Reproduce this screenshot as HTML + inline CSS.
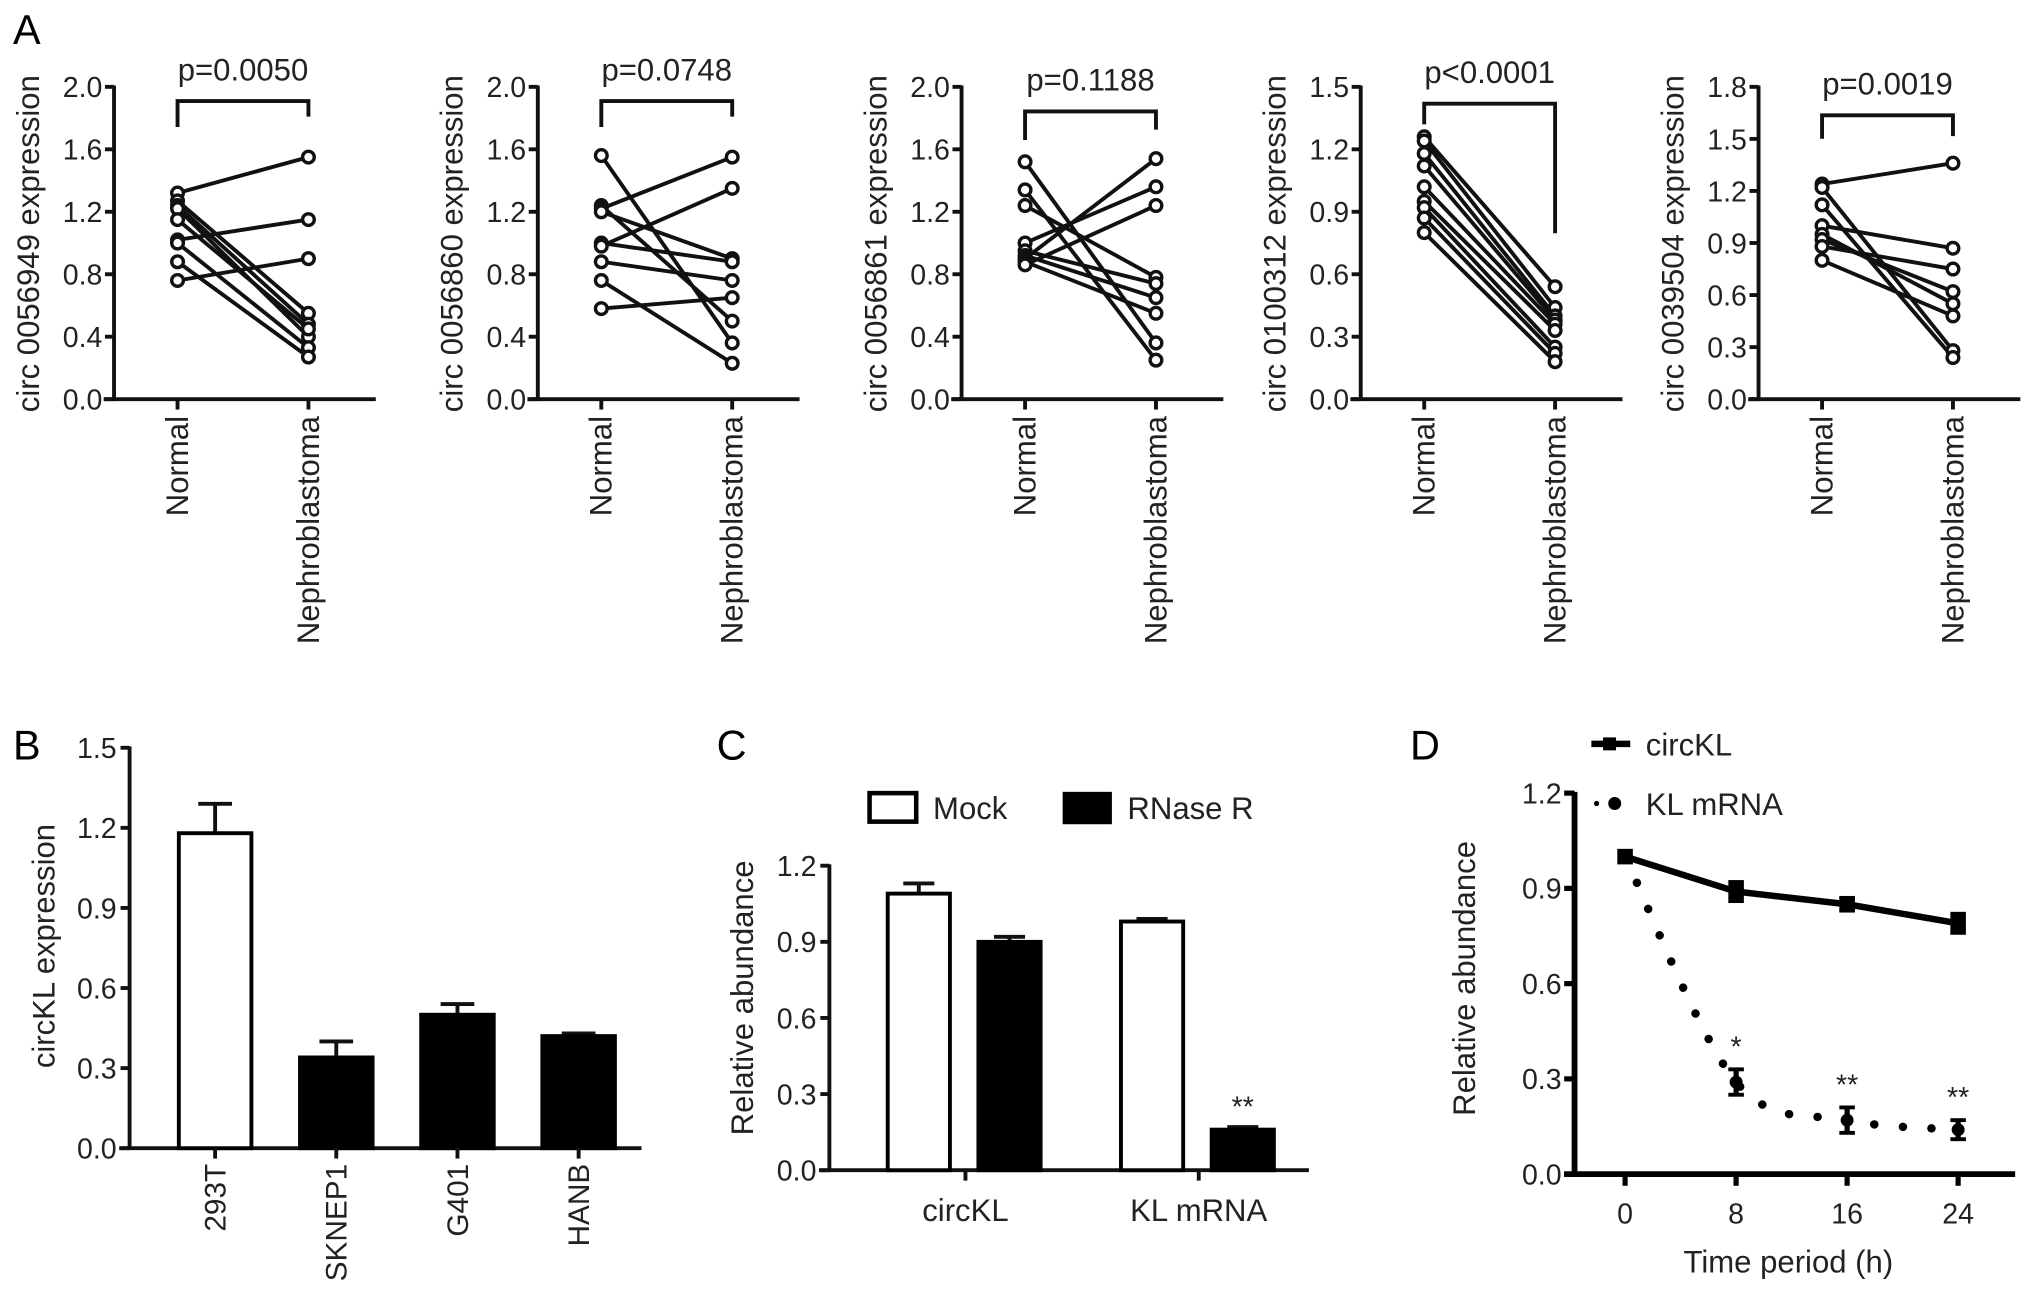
<!DOCTYPE html>
<html><head><meta charset="utf-8"><style>
html,body{margin:0;padding:0;background:#fff;}
svg{display:block;font-family:"Liberation Sans",Arial,sans-serif;}
</style></head><body>
<svg id="fig" width="2032" height="1311" viewBox="0 0 1568 1011.6" xmlns="http://www.w3.org/2000/svg"></svg>
<script>
// Panel A data
const aTitles = ["circ 0056949 expression","circ 0056860 expression","circ 0056861 expression","circ 0100312 expression","circ 0039504 expression"];
const aPvals = ["p=0.0050","p=0.0748","p=0.1188","p<0.0001","p=0.0019"];
const aMax = [2.0,2.0,2.0,1.5,1.8];
const aStep = [0.4,0.4,0.4,0.3,0.3];
const aNormal1 = [1.32,1.27,1.24,1.22,1.15,1.02,1.00,0.88,0.76];
const aNephro1 = [1.55,0.55,0.48,0.40,0.45,1.15,0.33,0.27,0.90];
const aNormal2 = [1.56,1.24,1.22,1.20,1.00,0.98,0.88,0.76,0.58];
const aNephro2 = [0.36,0.50,1.55,0.90,0.88,1.35,0.76,0.23,0.65];
const aNormal3 = [1.52,1.34,1.24,1.00,0.95,0.92,0.90,0.88,0.86];
const aNephro3 = [0.36,0.25,0.78,1.36,0.74,0.65,1.54,0.55,1.24];
const aNormal4 = [1.26,1.24,1.18,1.12,1.02,0.95,0.92,0.87,0.80];
const aNephro4 = [0.54,0.44,0.40,0.38,0.36,0.33,0.25,0.22,0.18];
const aNormal5 = [1.24,1.22,1.12,1.00,0.95,0.92,0.88,0.80];
const aNephro5 = [1.36,0.28,0.24,0.87,0.55,0.62,0.75,0.48];
// Panel B data
const bCats = ["293T","SKNEP1","G401","HANB"];
const bVals = [1.18,0.34,0.50,0.42];
const bErr = [0.11,0.06,0.04,0.01];
// Panel C data
const cCats = ["circKL","KL mRNA"];
const cMock = [1.09,0.98];
const cMockErr = [0.04,0.01];
const cRnase = [0.90,0.16];
const cRnaseErr = [0.02,0.01];
// Panel D data
const dTimes = [0,8,16,24];
const dCirc = [1.0,0.89,0.85,0.79];
const dCircErr = [0.0,0.03,0.02,0.03];
const dMrna = [1.0,0.29,0.17,0.14];
const dMrnaErr = [0.0,0.04,0.04,0.03];
const dStars = ["","*","**","**"];

const NS="http://www.w3.org/2000/svg";
const svg=document.getElementById('fig');
const TF=22, LF=24, SW=3;
function el(tag,attrs,parent,text){const e=document.createElementNS(NS,tag);for(const k in attrs)e.setAttribute(k,attrs[k]);if(text!==undefined)e.textContent=text;(parent||svg).appendChild(e);return e;}

function panelLabel(t,x,y){const e=el('text',{x:x,y:y,'font-size':32},svg,t);

}
panelLabel('A',10,34);panelLabel('B',10,586);panelLabel('C',553,586);panelLabel('D',1088,586);

// Panel A
const aAxisX=[88,415,742,1050,1357];
const aNormals=[aNormal1,aNormal2,aNormal3,aNormal4,aNormal5];
const aNephros=[aNephro1,aNephro2,aNephro3,aNephro4,aNephro5];
const aBracketY=[78,78,86,80,89];
const aLegL=[98,98,108,96,107];
const aLegR=[90,90,100,180,105];
for(let i=0;i<5;i++){
  const g=el('g',{});
  
  
  const ax=aAxisX[i], y0=308, y1=67;
  const ys=v=>y0-(v/aMax[i])*(y0-y1);
  const xN=ax+49, xT=ax+150;
  el('line',{x1:ax,y1:y1-1,x2:ax,y2:y0,stroke:'#111','stroke-width':SW},g);
  el('line',{x1:ax-8,y1:y0,x2:ax+202,y2:y0,stroke:'#111','stroke-width':SW},g);
  const nt=Math.round(aMax[i]/aStep[i]);
  for(let k=0;k<=nt;k++){const v=k*aStep[i],y=ys(v);
    el('line',{x1:ax-7,y1:y,x2:ax,y2:y,stroke:'#111','stroke-width':SW},g);
    const t=el('text',{x:ax-9,y:y+8,'font-size':TF,'text-anchor':'end',fill:'#222'},g,v.toFixed(1));
    
    }
  [xN,xT].forEach(x=>el('line',{x1:x,y1:y0,x2:x,y2:y0+8,stroke:'#111','stroke-width':SW},g));
  const yt=el('text',{transform:`translate(${ax-58},${188}) rotate(-90)`,'font-size':LF,'text-anchor':'middle',fill:'#222'},g,aTitles[i]);
  
  
  const l1=el('text',{transform:`translate(${xN+8},${321}) rotate(-90)`,'font-size':LF,'text-anchor':'end',fill:'#222'},g,'Normal');
  
  
  const l2=el('text',{transform:`translate(${xT+8},${321}) rotate(-90)`,'font-size':LF,'text-anchor':'end',fill:'#222'},g,'Nephroblastoma');
  
  
  el('path',{d:`M${xN},${aLegL[i]} V${aBracketY[i]} H${xT} V${aLegR[i]}`,fill:'none',stroke:'#111','stroke-width':SW},g);
  const pt=el('text',{x:(xN+xT)/2,y:aBracketY[i]-16,'font-size':LF,'text-anchor':'middle',fill:'#222'},g,aPvals[i]);
  
  
  const N=aNormals[i],T=aNephros[i];
  for(let j=0;j<N.length;j++){
    const ln=el('line',{x1:xN,y1:ys(N[j]),x2:xT,y2:ys(T[j]),stroke:'#111','stroke-width':SW},g);
    
    
  }
  for(let j=0;j<N.length;j++){
    [[xN,N[j]],[xT,T[j]]].forEach(p=>{const c=el('circle',{cx:p[0],cy:ys(p[1]),r:4.5,fill:'#fff',stroke:'#111','stroke-width':2.6},g);
    
    });
  }
}

// Panel B
(function(){
  const g=el('g',{});
  
  
  const ax=100,y0=886,y1=577,max=1.5;
  const ys=v=>y0-v/max*(y0-y1);
  const xc=i=>166+i*93.5;
  el('line',{x1:ax,y1:y1-1,x2:ax,y2:y0,stroke:'#111','stroke-width':SW},g);
  el('line',{x1:ax-8,y1:y0,x2:495,y2:y0,stroke:'#111','stroke-width':SW},g);
  for(let k=0;k<=5;k++){const v=k*0.3,y=ys(v);
    el('line',{x1:ax-7,y1:y,x2:ax,y2:y,stroke:'#111','stroke-width':SW},g);
    el('text',{x:ax-10,y:y+8,'font-size':TF,'text-anchor':'end',fill:'#222'},g,v.toFixed(1));}
  const yt=el('text',{transform:`translate(42,730) rotate(-90)`,'font-size':LF,'text-anchor':'middle',fill:'#222'},g,'circKL expression');
  
  
  for(let i=0;i<bCats.length;i++){
    const x=xc(i),w=56;
    el('line',{x1:x,y1:ys(bVals[i]),x2:x,y2:ys(bVals[i]+bErr[i]),stroke:'#111','stroke-width':SW},g);
    el('line',{x1:x-13,y1:ys(bVals[i]+bErr[i]),x2:x+13,y2:ys(bVals[i]+bErr[i]),stroke:'#111','stroke-width':SW},g);
    const r=el('rect',{x:x-w/2,y:ys(bVals[i]),width:w,height:y0-ys(bVals[i]),fill:i===0?'#fff':'#000',stroke:'#000','stroke-width':SW},g);
    
    
    el('line',{x1:x,y1:y0,x2:x,y2:y0+8,stroke:'#111','stroke-width':SW},g);
    const t=el('text',{transform:`translate(${x+8},${898}) rotate(-90)`,'font-size':LF-1,'text-anchor':'end',fill:'#222'},g,bCats[i]);
    
    
  }
})();

// Panel C
(function(){
  const g=el('g',{});
  
  
  const ax=640,y0=903,y1=668,max=1.2;
  const ys=v=>y0-v/max*(y0-y1);
  const gc=[745,925];
  el('line',{x1:ax,y1:y1-1,x2:ax,y2:y0,stroke:'#111','stroke-width':SW},g);
  el('line',{x1:ax-8,y1:y0,x2:1010,y2:y0,stroke:'#111','stroke-width':SW},g);
  for(let k=0;k<=4;k++){const v=k*0.3,y=ys(v);
    el('line',{x1:ax-7,y1:y,x2:ax,y2:y,stroke:'#111','stroke-width':SW},g);
    el('text',{x:ax-10,y:y+8,'font-size':TF,'text-anchor':'end',fill:'#222'},g,v.toFixed(1));}
  const yt=el('text',{transform:`translate(581,770) rotate(-90)`,'font-size':LF,'text-anchor':'middle',fill:'#222'},g,'Relative abundance');
  
  
  const lm=el('rect',{x:671,y:612,width:36,height:22,fill:'#fff',stroke:'#000','stroke-width':3.5},g);
  
  
  el('text',{x:720,y:632,'font-size':LF,fill:'#222'},g,'Mock');
  const lr=el('rect',{x:820,y:611,width:38,height:25,fill:'#000'},g);
  
  
  el('text',{x:870,y:632,'font-size':LF,fill:'#222'},g,'RNase R');
  for(let i=0;i<cCats.length;i++){
    [[cMock,cMockErr,'#fff',-36],[cRnase,cRnaseErr,'#000',34]].forEach(s=>{
      const v=s[0][i],e=s[1][i],x=gc[i]+s[3],w=48;
      el('line',{x1:x,y1:ys(v),x2:x,y2:ys(v+e),stroke:'#111','stroke-width':SW},g);
      el('line',{x1:x-12,y1:ys(v+e),x2:x+12,y2:ys(v+e),stroke:'#111','stroke-width':SW},g);
      const r=el('rect',{x:x-w/2,y:ys(v),width:w,height:y0-ys(v),fill:s[2],stroke:'#000','stroke-width':SW},g);
      
      
    });
    el('line',{x1:gc[i],y1:y0,x2:gc[i],y2:y0+8,stroke:'#111','stroke-width':SW},g);
    const t=el('text',{x:gc[i],y:942,'font-size':LF,'text-anchor':'middle',fill:'#222'},g,cCats[i]);
    
    
  }
  el('text',{x:gc[1]+34,y:ys(cRnase[1]+cRnaseErr[1])-8,'font-size':22,'text-anchor':'middle',fill:'#222'},g,'**');
})();

// Panel D
(function(){
  const g=el('g',{});
  
  
  const ax=1215,y0=906,y1=612,max=1.2;
  const ys=v=>y0-v/max*(y0-y1);
  const xs=t=>1254+t/24*(1511-1254);
  el('line',{x1:ax,y1:y1-1,x2:ax,y2:y0,stroke:'#000','stroke-width':4.5},g);
  el('line',{x1:ax-8,y1:y0,x2:1555,y2:y0,stroke:'#000','stroke-width':4.5},g);
  for(let k=0;k<=4;k++){const v=k*0.3,y=ys(v);
    el('line',{x1:ax-8,y1:y,x2:ax,y2:y,stroke:'#000','stroke-width':4},g);
    el('text',{x:ax-10,y:y+8,'font-size':TF,'text-anchor':'end',fill:'#222'},g,v.toFixed(1));}
  dTimes.forEach(t=>{el('line',{x1:xs(t),y1:y0,x2:xs(t),y2:y0+9,stroke:'#000','stroke-width':4},g);
    const tl=el('text',{x:xs(t),y:944,'font-size':TF,'text-anchor':'middle',fill:'#222'},g,String(t));
    
    });
  const xt=el('text',{x:1380,y:982,'font-size':LF,'text-anchor':'middle',fill:'#222'},g,'Time period (h)');
  
  
  const yt=el('text',{transform:`translate(1138,755) rotate(-90)`,'font-size':LF,'text-anchor':'middle',fill:'#222'},g,'Relative abundance');
  
  
  const cl=el('polyline',{points:dTimes.map((t,i)=>xs(t)+','+ys(dCirc[i])).join(' '),fill:'none',stroke:'#000','stroke-width':5},g);
  
  
  dTimes.forEach((t,i)=>{const x=xs(t);
    el('rect',{x:x-6,y:ys(dCirc[i])-6,width:12,height:12,fill:'#000'},g);
    if(dCircErr[i]>0){el('line',{x1:x,y1:ys(dCirc[i]-dCircErr[i]),x2:x,y2:ys(dCirc[i]+dCircErr[i]),stroke:'#000','stroke-width':4},g);
      [dCirc[i]-dCircErr[i],dCirc[i]+dCircErr[i]].forEach(v=>el('line',{x1:x-6,y1:ys(v),x2:x+6,y2:ys(v),stroke:'#000','stroke-width':3},g));}
  });
  const P=dTimes.map((t,i)=>[xs(t),ys(dMrna[i])]);
  let d=`M${P[0][0]},${P[0][1]}`;
  for(let i=0;i<P.length-1;i++){
    const p0=P[Math.max(0,i-1)],p1=P[i],p2=P[i+1],p3=P[Math.min(P.length-1,i+2)];
    const c1=[p1[0]+(p2[0]-p0[0])/6,p1[1]+(p2[1]-p0[1])/6];
    const c2=[p2[0]-(p3[0]-p1[0])/6,p2[1]-(p3[1]-p1[1])/6];
    d+=` C${c1[0]},${c1[1]} ${c2[0]},${c2[1]} ${p2[0]},${p2[1]}`;
  }
  const ml=el('path',{d:d,fill:'none',stroke:'#000','stroke-width':6.5,'stroke-linecap':'round','stroke-dasharray':'0.1 22'},g);
  
  
  dTimes.forEach((t,i)=>{const x=xs(t);
    el('circle',{cx:x,cy:ys(dMrna[i]),r:5,fill:'#000'},g);
    if(dMrnaErr[i]>0){el('line',{x1:x,y1:ys(dMrna[i]-dMrnaErr[i]),x2:x,y2:ys(dMrna[i]+dMrnaErr[i]),stroke:'#000','stroke-width':4},g);
      [dMrna[i]-dMrnaErr[i],dMrna[i]+dMrnaErr[i]].forEach(v=>el('line',{x1:x-6,y1:ys(v),x2:x+6,y2:ys(v),stroke:'#000','stroke-width':3},g));}
    if(dStars[i]){const s=el('text',{x:x,y:ys(dMrna[i]+dMrnaErr[i])-10,'font-size':22,'text-anchor':'middle',fill:'#222'},g,dStars[i]);
      
      }
  });
  el('line',{x1:1228,y1:574,x2:1258,y2:574,stroke:'#000','stroke-width':5},g);
  el('rect',{x:1237,y:569,width:10,height:10,fill:'#000'},g);
  const t1=el('text',{x:1270,y:583,'font-size':LF,fill:'#222'},g,'circKL');
  
  
  el('circle',{cx:1232,cy:620,r:2,fill:'#000'},g);
  el('circle',{cx:1246,cy:620,r:5,fill:'#000'},g);
  const t2=el('text',{x:1270,y:629,'font-size':LF,fill:'#222'},g,'KL mRNA');
  
  
})();
</script>
</body></html>
